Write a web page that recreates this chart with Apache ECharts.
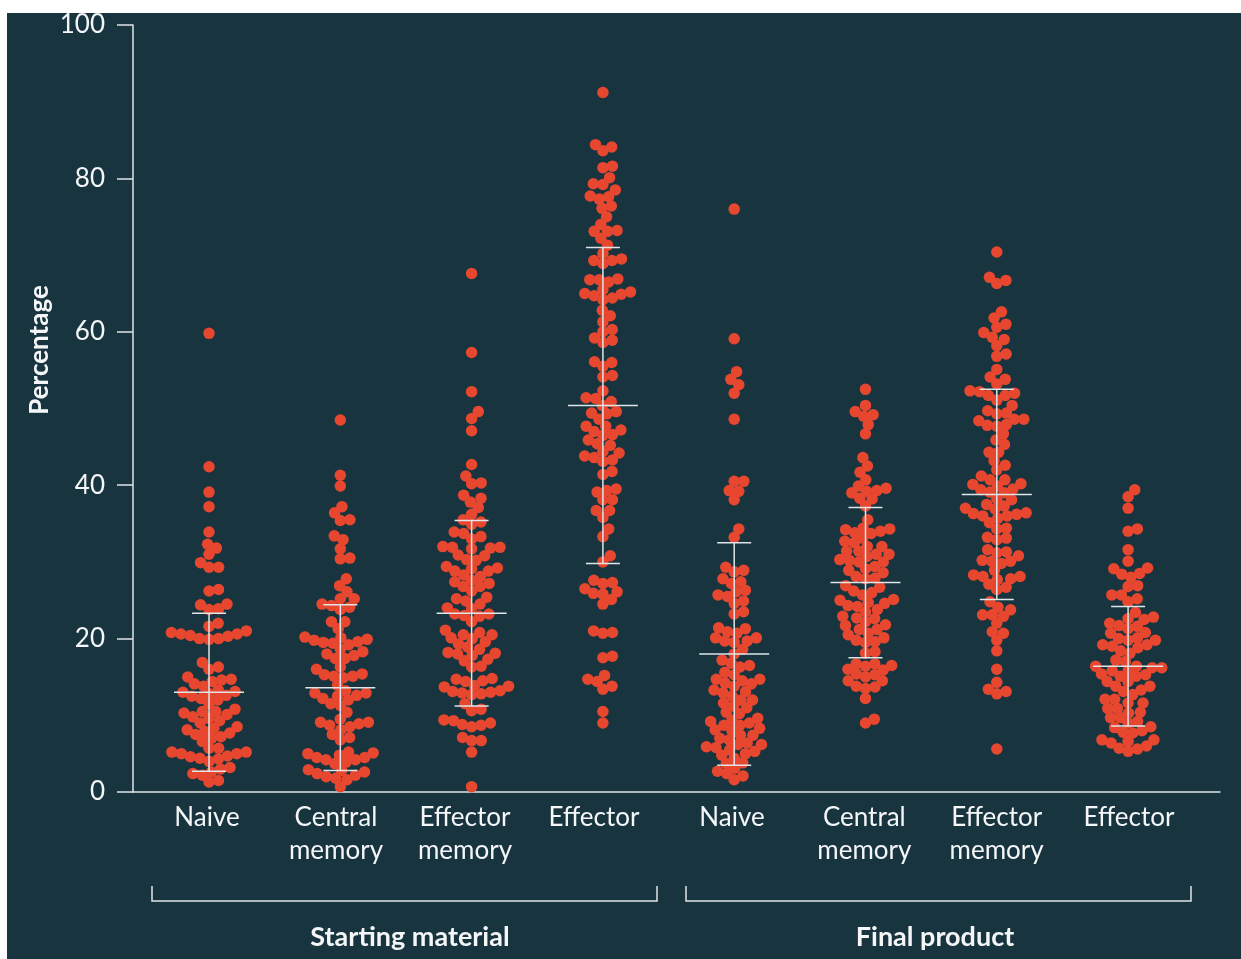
<!DOCTYPE html>
<html><head><meta charset="utf-8">
<script src="https://cdn.jsdelivr.net/npm/echarts/dist/echarts.min.js"></script>
<style>
html,body{margin:0;padding:0;background:#ffffff;}
#wrap{position:relative;width:1241px;height:959px;overflow:hidden;background:#ffffff;}
#panel{position:absolute;left:7px;top:13px;right:0;bottom:0;background:#17343f;}
#chart{position:absolute;left:0;top:0;width:1241px;height:959px;}
</style></head><body>
<div id="wrap"><div id="panel"></div><div id="chart"></div></div>
<script>
// ---- data ----
const categoriesStart = ['Naive','Central\nmemory','Effector\nmemory','Effector'];
const categoriesFinal = ['Naive','Central\nmemory','Effector\nmemory','Effector'];
const groupLabels = ['Starting material','Final product'];
const yAxisName = 'Percentage';
const yMin = 0, yMax = 100, yInterval = 20;

const naiveStart = [59.8,42.4,39.1,37.2,33.9,31.8,32.3,31.0,29.3,29.3,29.9,26.2,26.4,23.8,24.4,23.9,24.5,21.6,22.0,
 20.8,20.6,20.3,20.0,19.9,20.0,20.4,20.6,21.0,16.3,16.9,16.0,15.0,14.6,14.1,13.8,14.4,14.7,
 13.3,13.0,12.6,12.2,11.5,12.0,12.5,12.8,13.1,10.5,10.3,9.8,9.3,9.0,9.6,10.1,10.5,10.8,
 8.5,8.1,7.7,7.2,6.6,7.0,7.5,7.9,8.3,5.7,5.7,5.2,5.0,4.6,4.3,4.0,4.4,4.7,5.0,5.2,
 3.0,2.6,2.2,2.4,3.2,1.5,1.3];
const centralMemoryStart = [48.5,41.3,39.9,37.2,36.4,35.5,35.4,33.4,32.9,31.7,30.5,30.4,27.8,26.9,26.1,25.2,25.2,24.3,23.8,24.5,24.1,22.2,22.2,21.3,
 20.2,19.9,19.6,19.4,19.2,19.5,19.8,20.1,18.6,18.0,17.4,17.4,17.8,18.3,16.3,16.0,15.4,15.1,14.9,15.1,15.3,13.9,
 13.2,12.9,12.5,12.0,11.3,11.5,12.2,12.6,12.9,10.4,8.5,9.1,8.9,8.7,9.1,9.5,6.8,7.1,7.5,8.1,5.2,5.0,
 5.1,4.5,4.2,3.9,3.7,4.2,4.5,4.8,2.9,2.6,2.2,1.8,1.6,2.0,2.4,2.8,0.7];
const effectorMemoryStart = [67.6,57.3,52.2,49.6,48.7,47.1,42.7,41.2,40.2,40.3,38.7,38.3,37.1,37.8,36.2,35.5,34.9,35.2,33.9,33.3,33.7,33.0,
 32.0,31.7,31.8,31.9,31.9,30.8,30.9,30.2,30.3,29.2,28.8,28.8,29.1,29.4,28.3,27.6,27.2,26.8,26.2,26.8,27.4,28.1,
 25.2,24.9,25.4,24.5,23.9,24.0,23.2,22.9,23.0,23.2,22.2,20.8,21.1,20.5,20.0,19.3,18.6,18.9,19.6,20.1,20.5,
 18.2,18.0,17.1,16.4,16.3,17.3,17.8,18.1,14.4,13.8,14.7,13.7,14.8,13.9,14.5,13.1,12.8,13.0,12.9,12.7,13.2,
 10.6,11.5,10.8,9.3,8.8,8.5,8.7,9.0,9.4,7.1,6.7,6.7,5.2,0.7];
const effectorStart = [91.2,84.1,83.6,84.4,81.6,81.4,80.1,79.3,79.2,78.5,77.6,77.3,77.7,76.4,76.1,75.0,73.2,73.1,73.1,74.0,71.3,72.2,70.2,69.5,69.3,69.3,68.9,66.8,66.5,66.8,66.9,
 65.0,64.7,64.2,64.4,64.9,65.2,65.5,62.1,62.8,61.3,60.3,60.0,59.2,58.9,58.6,56.0,56.1,55.5,54.3,54.1,52.3,51.3,51.4,50.9,50.4,
 49.6,49.3,48.6,49.4,47.7,47.0,46.5,46.6,47.2,47.7,45.9,45.2,45.4,44.2,43.8,44.4,43.6,43.1,43.3,41.4,41.8,39.5,39.1,39.3,38.1,38.1,36.7,36.7,35.8,34.3,33.3,30.8,30.0,
 27.3,27.2,27.6,26.1,25.8,24.5,25.1,25.9,26.5,20.8,20.7,21.0,17.5,17.7,14.7,13.8,13.4,14.4,15.2,10.5,9.0];
const naiveFinal = [76.0,59.1,54.8,53.8,53.1,52.0,48.6,40.5,40.5,39.3,39.2,38.1,34.3,33.2,
 29.3,28.7,28.9,27.4,27.8,27.2,26.3,25.7,25.5,26.1,24.6,24.9,23.2,23.5,21.3,20.7,20.1,19.7,19.5,19.7,20.1,20.9,21.4,
 18.0,18.6,16.8,16.3,16.5,17.2,15.3,14.7,14.2,13.8,14.1,14.5,14.7,15.6,13.3,12.5,12.0,11.2,11.0,11.6,12.0,12.9,13.1,
 10.4,9.6,9.2,8.7,9.0,9.4,10.2,8.7,8.1,7.4,6.8,6.4,7.0,7.4,8.0,8.3,6.2,5.8,5.3,4.8,4.4,5.0,5.5,5.9,6.2,
 3.8,3.1,2.4,1.6,2.1,2.7,3.7];
const centralMemoryFinal = [52.5,50.4,49.6,49.2,49.0,47.9,46.7,43.6,42.5,41.7,40.7,39.6,39.2,39.9,39.0,39.3,38.3,38.2,37.3,35.5,
 34.3,34.0,33.7,33.1,33.8,34.2,34.4,32.7,32.0,31.4,31.0,30.7,31.0,31.4,32.0,32.5,30.2,30.0,29.1,28.6,28.1,28.9,29.4,30.0,30.3,
 27.9,27.8,26.9,26.2,25.7,26.0,26.7,25.0,24.7,24.2,23.5,22.9,23.8,24.3,24.6,25.1,22.7,22.2,21.7,21.2,20.5,20.7,21.2,21.8,22.6,
 20.1,19.5,19.6,19.8,18.3,18.1,16.4,15.9,16.7,15.0,16.7,16.0,16.5,15.3,15.4,14.5,13.8,13.5,13.7,14.5,12.2,9.0,9.5];
const effectorMemoryFinal = [70.4,67.1,66.3,66.7,62.6,61.8,61.0,60.6,59.9,59.0,59.3,58.2,57.1,56.8,55.1,54.1,53.8,53.2,
 52.2,51.7,51.1,50.4,51.7,52.0,52.3,49.7,49.3,48.6,47.9,47.7,47.8,48.4,48.6,49.4,
 46.7,45.9,45.3,44.3,44.3,43.2,42.6,42.0,41.2,40.7,40.7,40.1,39.5,39.1,39.0,39.4,39.9,40.2,38.1,38.2,
 37.5,37.0,36.9,37.3,36.3,36.0,35.7,36.0,36.2,36.4,34.4,34.3,35.1,33.2,32.9,33.1,31.3,31.6,31.2,
 30.8,30.1,29.8,30.1,30.2,28.9,27.8,27.1,28.1,28.3,27.7,28.1,26.4,26.7,
 24.8,24.1,23.75,23.1,22.9,23.1,22.0,20.7,20.9,19.8,18.4,16.0,14.3,13.1,12.8,13.4,5.6];
const effectorFinal = [39.4,38.5,37.0,34.3,34.0,31.6,30.1,29.2,29.1,28.4,28.0,28.5,26.8,26.9,25.7,24.8,25.2,25.7,
 23.4,22.8,22.6,22.5,22.0,21.3,21.7,21.6,20.8,20.7,19.8,19.2,18.8,20.0,20.1,19.0,19.2,19.8,18.4,18.1,17.2,17.0,
 16.4,16.2,15.8,15.3,15.4,15.8,16.2,16.4,15.1,14.4,13.8,13.1,12.7,13.3,13.8,14.4,15.1,
 12.1,11.6,10.9,10.4,10.3,10.9,11.6,12.1,9.7,9.0,8.4,7.8,7.7,8.0,8.5,9.2,9.7,
 6.8,6.4,5.7,5.3,5.6,6.0,6.6,6.8];
const groupValues = [naiveStart, centralMemoryStart, effectorMemoryStart, effectorStart,
                     naiveFinal, centralMemoryFinal, effectorMemoryFinal, effectorFinal];
const meanValues = [13.0, 13.6, 23.3, 50.4, 18.0, 27.3, 38.8, 16.4];
const sdValues   = [10.3, 10.8, 12.1, 20.6, 14.5,  9.8, 13.7,  7.8];

// ---- layout ----
const W = 1241, H = 959;
const G = {left: 133, right: 21, top: 25, bottom: 167};
const xMin = -0.579, xMax = 7.70;
const plotW = W - G.left - G.right, plotH = H - G.top - G.bottom;
const pxPerX = plotW / (xMax - xMin);
const pxPerY = plotH / (yMax - yMin);

const textColor = '#f4f6f7';
const lineColor = '#dfe5e8';
const dotColor = '#e8472f';
const font = 'Lato, "Noto Sans", sans-serif';

function swarmOffsets(values, d) {
  const idx = values.map((v, i) => i).sort((a, b) => values[a] - values[b]);
  const placed = [];
  const out = new Array(values.length);
  for (const i of idx) {
    const y = values[i] * pxPerY;
    const near = placed.filter(p => Math.abs(p.y - y) < d);
    const cands = [0];
    near.forEach(p => {
      const dx = Math.sqrt(d * d - (p.y - y) * (p.y - y));
      cands.push(p.x + dx, p.x - dx);
    });
    cands.sort((a, b) => (Math.abs(a) - Math.abs(b)) || (b - a));
    let x = 0;
    for (const c of cands) {
      if (near.every(p => (p.x - c) * (p.x - c) + (p.y - y) * (p.y - y) >= d * d - 1e-6)) { x = c; break; }
    }
    placed.push({x, y});
    out[i] = x;
  }
  return out;
}

const scatterData = [];
groupValues.forEach((vals, g) => {
  const offs = swarmOffsets(vals, 9.6);
  vals.forEach((v, k) => scatterData.push([g + offs[k] / pxPerX, v]));
});

const chart = echarts.init(document.getElementById('chart'), null, {renderer: 'canvas'});
const catLabel = {color: textColor, fontSize: 26, lineHeight: 33, margin: 9, fontFamily: font, interval: 0};

chart.setOption({
  backgroundColor: 'transparent',
  animation: false,
  textStyle: {fontFamily: font},
  grid: [
    {left: G.left, right: G.right, top: G.top, bottom: G.bottom},
    {left: 142.5, width: 516, top: G.top, bottom: G.bottom},
    {left: 665.9, width: 529.2, top: G.top, bottom: G.bottom}
  ],
  xAxis: [
    {type: 'value', gridIndex: 0, min: xMin, max: xMax,
     axisLine: {show: true, onZero: false, lineStyle: {color: lineColor, width: 1.5}},
     axisTick: {show: false}, axisLabel: {show: false}, splitLine: {show: false}},
    {type: 'category', gridIndex: 1, data: categoriesStart, boundaryGap: true,
     axisLine: {show: false}, axisTick: {show: false}, splitLine: {show: false}, axisLabel: catLabel},
    {type: 'category', gridIndex: 2, data: categoriesFinal, boundaryGap: true,
     axisLine: {show: false}, axisTick: {show: false}, splitLine: {show: false}, axisLabel: catLabel}
  ],
  yAxis: [
    {type: 'value', gridIndex: 0, min: yMin, max: yMax, interval: yInterval,
     axisLine: {show: true, onZero: false, lineStyle: {color: lineColor, width: 1.5}},
     axisTick: {show: true, length: 16, lineStyle: {color: lineColor, width: 1.5}},
     axisLabel: {color: textColor, fontSize: 26, margin: 28, fontFamily: font},
     splitLine: {show: false}},
    {type: 'value', gridIndex: 1, show: false, min: yMin, max: yMax},
    {type: 'value', gridIndex: 2, show: false, min: yMin, max: yMax}
  ],
  series: [
    {type: 'scatter', xAxisIndex: 0, yAxisIndex: 0, data: scatterData,
     symbol: 'circle', symbolSize: 11.5, z: 2,
     itemStyle: {color: dotColor, opacity: 1}},
    {type: 'custom', xAxisIndex: 0, yAxisIndex: 0, z: 3,
     data: meanValues.map((m, i) => [i, m, sdValues[i]]),
     renderItem: function (params, api) {
       const i = api.value(0), m = api.value(1), s = api.value(2);
       const c = api.coord([i, m]), t = api.coord([i, m + s]), b = api.coord([i, m - s]);
       const st = {stroke: lineColor, lineWidth: 1.5};
       return {type: 'group', children: [
         {type: 'line', shape: {x1: c[0], y1: t[1], x2: c[0], y2: b[1]}, style: st},
         {type: 'line', shape: {x1: c[0] - 17, y1: t[1], x2: c[0] + 17, y2: t[1]}, style: st},
         {type: 'line', shape: {x1: c[0] - 17, y1: b[1], x2: c[0] + 17, y2: b[1]}, style: st},
         {type: 'line', shape: {x1: c[0] - 35, y1: c[1], x2: c[0] + 35, y2: c[1]}, style: st}
       ]};
     }}
  ],
  graphic: [
    {type: 'text', x: 40, y: 350, rotation: Math.PI / 2,
     style: {text: yAxisName, fill: textColor, font: 'bold 26px ' + font, textAlign: 'center', textVerticalAlign: 'middle'}},
    {type: 'polyline', shape: {points: [[152, 886], [152, 901], [657, 901], [657, 886]]},
     style: {stroke: lineColor, lineWidth: 1.5, fill: null}},
    {type: 'polyline', shape: {points: [[686, 886], [686, 901], [1191, 901], [1191, 886]]},
     style: {stroke: lineColor, lineWidth: 1.5, fill: null}},
    {type: 'text', x: 410, y: 937,
     style: {text: groupLabels[0], fill: textColor, font: 'bold 27px ' + font, textAlign: 'center', textVerticalAlign: 'middle'}},
    {type: 'text', x: 935, y: 937,
     style: {text: groupLabels[1], fill: textColor, font: 'bold 27px ' + font, textAlign: 'center', textVerticalAlign: 'middle'}}
  ]
});
</script>
</body></html>
